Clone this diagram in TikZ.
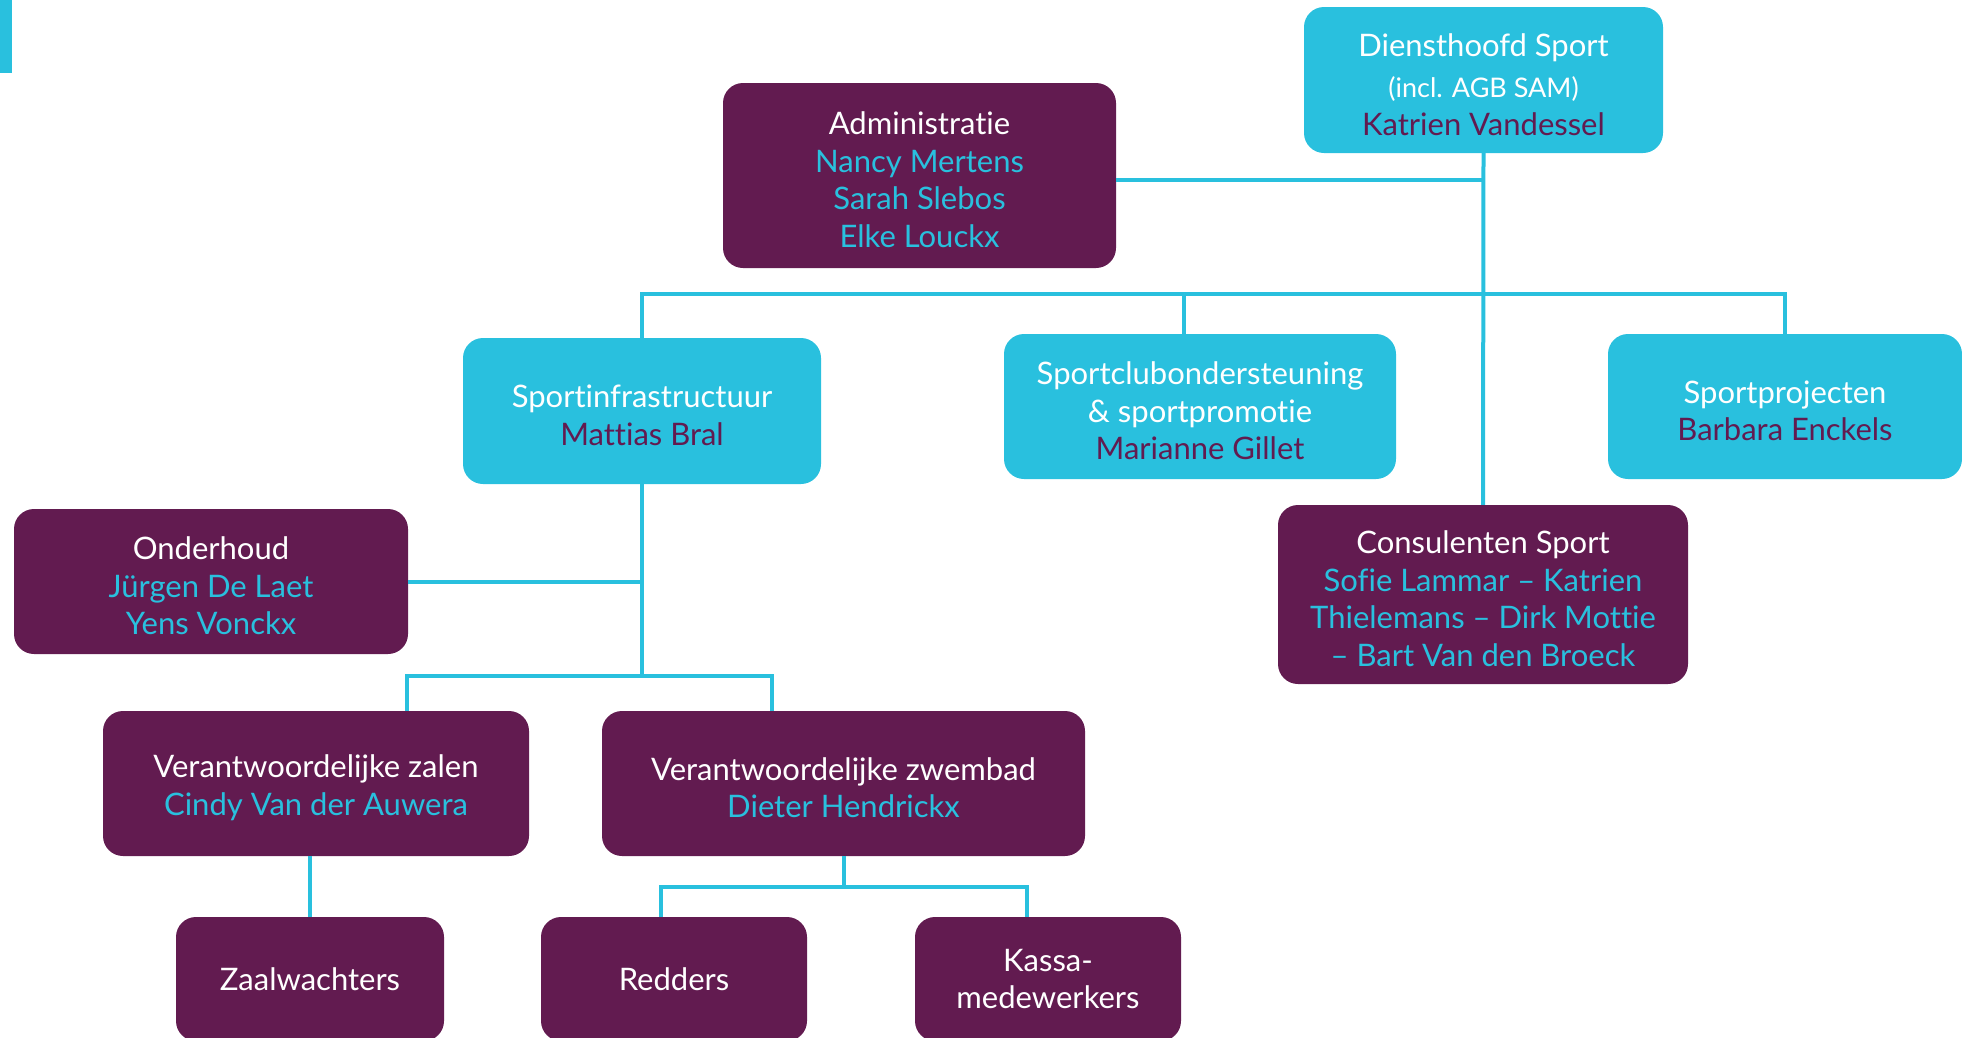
\documentclass[tikz,border=0pt]{standalone}
\usepackage{fontspec}
\setmainfont{Lato}[Ligatures=NoCommon]
\usepackage{xcolor}
\usepackage{tikz}

\definecolor{sportcyaan}{RGB}{41,192,222}
\definecolor{sportpaars}{RGB}{98,27,80}

% eerste regel iets lager zetten
\newcommand{\kop}[1]{\rule{0pt}{31.5pt}#1}

\begin{document}
\begin{tikzpicture}[
    x=1pt, y=-1pt,
    box/.style={rectangle, rounded corners=20pt, inner sep=0pt, align=center, text=white, font=\fontsize{31}{37.5}\selectfont},
    paarsbox/.style={box, fill=sportpaars},
    cyaanbox/.style={box, fill=sportcyaan},
    lijn/.style={draw=sportcyaan, line width=4pt}
]
\useasboundingbox (0,0) rectangle (1962,1037);

% Balk linksboven
\fill[sportcyaan] (0,0) rectangle (12,73);

% Top
\node[cyaanbox, minimum width=359pt, minimum height=146pt] (hoofd) at (1483.5,80) {\kop{Diensthoofd Sport}\\[4pt]{\fontsize{27}{37.5}\selectfont (incl. AGB SAM)}\\\textcolor{sportpaars}{Katrien Vandessel}};
\node[paarsbox, minimum width=393pt, minimum height=185pt] (admin) at (919.5,175.5) {\kop{Administratie}\\\textcolor{sportcyaan}{Nancy Mertens}\\\textcolor{sportcyaan}{Sarah Slebos}\\\textcolor{sportcyaan}{Elke Louckx}};

% Afdelingen
\node[cyaanbox, minimum width=358pt, minimum height=146pt] (infra) at (642,411) {\kop{Sportinfrastructuur}\\\textcolor{sportpaars}{Mattias Bral}};
\node[cyaanbox, minimum width=392pt, minimum height=145pt] (club) at (1200,406.5) {\kop{Sportclubondersteuning}\\\& sportpromotie\\\textcolor{sportpaars}{Marianne Gillet}};
\node[cyaanbox, minimum width=354pt, minimum height=145pt] (proj) at (1785,406.5) {\kop{Sportprojecten}\\\textcolor{sportpaars}{Barbara Enckels}};
\node[paarsbox, minimum width=410pt, minimum height=179pt] (cons) at (1483,594.5) {\kop{Consulenten Sport}\\\textcolor{sportcyaan}{Sofie Lammar -- Katrien}\\\textcolor{sportcyaan}{Thielemans -- Dirk Mottie}\\\textcolor{sportcyaan}{-- Bart Van den Broeck}};

% Sportinfrastructuur
\node[paarsbox, minimum width=394pt, minimum height=145pt] (onder) at (211,581.5) {\kop{Onderhoud}\\\textcolor{sportcyaan}{Jürgen De Laet}\\\textcolor{sportcyaan}{Yens Vonckx}};
\node[paarsbox, minimum width=426pt, minimum height=145pt] (zalen) at (316,783.5) {\kop{Verantwoordelijke zalen}\\\textcolor{sportcyaan}{Cindy Van der Auwera}};
\node[paarsbox, minimum width=483pt, minimum height=145pt] (zwem) at (843.5,783.5) {\kop{Verantwoordelijke zwembad}\\\textcolor{sportcyaan}{Dieter Hendrickx}};
\node[paarsbox, minimum width=268pt, minimum height=124pt] (zaal) at (310,979) {Zaalwachters};
\node[paarsbox, minimum width=266pt, minimum height=124pt] (redders) at (674,979) {Redders};
\node[paarsbox, minimum width=266pt, minimum height=124pt] (kassa) at (1048,979) {Kassa-\\medewerkers};

% Aftakpunten
\coordinate (busA) at (0,294);
\coordinate (tapclub) at (1184,294);
\coordinate (tapzalen) at (407,676);
\coordinate (tapzwem) at (772,676);
\coordinate (tapredders) at (661,887);
\coordinate (tapkassa) at (1027,887);

% Lijnen
\draw[lijn] (hoofd.south) -- (cons.north);
\draw[lijn] (admin.east |- 0,180) -- (hoofd.south |- 0,180);
\draw[lijn] (infra.north) -- (infra.north |- busA) -- (proj.north |- busA) -- (proj.north);
\draw[lijn] (tapclub) -- (tapclub |- club.north);
\draw[lijn] (infra.south) -- (infra.south |- tapzalen);
\draw[lijn] (onder.east) -- (onder.east -| infra.south);
\draw[lijn] (tapzalen |- zalen.north) -- (tapzalen) -- (tapzwem) -- (tapzwem |- zwem.north);
\draw[lijn] (zalen.south -| zaal.north) -- (zaal.north);
\draw[lijn] (zwem.south) -- (zwem.south |- tapredders);
\draw[lijn] (tapredders |- redders.north) -- (tapredders) -- (tapkassa) -- (tapkassa |- kassa.north);

\end{tikzpicture}
\end{document}
